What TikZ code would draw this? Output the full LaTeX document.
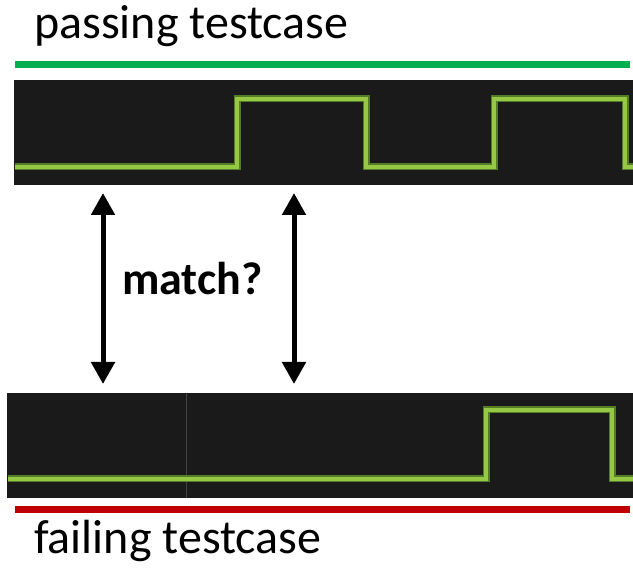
\documentclass[tikz,border=0pt]{standalone}
\usepackage{fontspec}
\setmainfont{Carlito}
\usetikzlibrary{arrows.meta}
\definecolor{okgreen}{RGB}{0,176,80}
\definecolor{okred}{RGB}{192,0,0}
\definecolor{scope}{RGB}{26,26,26}
\definecolor{trace}{RGB}{150,200,70}
\definecolor{glow}{RGB}{85,125,40}
\tikzset{
  x=1pt, y=-1pt,
  label/.style={font=\fontsize{48}{52}\selectfont, anchor=base west, inner sep=0pt},
  bar/.style={line width=7pt},
  screen/.style={fill=scope, draw=none},
  wave/.style={draw=trace, line width=4.5pt, line join=miter},
  waveglow/.style={draw=glow, line width=7pt, line join=miter},
  dblarrow/.style={line width=5pt, {Triangle[width=23pt,length=22pt]}-{Triangle[width=23pt,length=22pt]}},
}
\begin{document}
\begin{tikzpicture}
\useasboundingbox (0,0) rectangle (633,569);
% labels
\node[label] (pass) at (34,39) {passing testcase};
\node[label] (fail) at (34,554) {failing testcase};
% bars
\draw[bar, okgreen] (15,65) -- (630,65);
\draw[bar, okred] (15,510) -- (630,510);
% top scope
\fill[screen] (14,80) rectangle (633,185);
\draw[waveglow] (15,167) -- (237,167) -- (237,99) -- (366,99) -- (366,167) -- (494,167) -- (494,99) -- (625,99) -- (625,167) -- (633,167);
\draw[wave] (15,167) -- (237,167) -- (237,99) -- (366,99) -- (366,167) -- (494,167) -- (494,99) -- (625,99) -- (625,167) -- (633,167);
% bottom scope
\fill[screen] (7,393) rectangle (633,498);
\draw[draw=gray!40!scope, line width=0.8pt] (186,393) -- (186,498);
\draw[waveglow] (8,479) -- (486,479) -- (486,410) -- (612,410) -- (612,479) -- (633,479);
\draw[wave] (8,479) -- (486,479) -- (486,410) -- (612,410) -- (612,479) -- (633,479);
% arrows
\coordinate (a1t) at (103,193);
\coordinate (a1b) at (103,384);
\coordinate (a2t) at (294,193);
\coordinate (a2b) at (294,384);
\draw[dblarrow] (a1t) -- (a1b);
\draw[dblarrow] (a2t) -- (a2b);
\node[font=\bfseries\fontsize{46}{50}\selectfont, anchor=base west, inner sep=0pt] (match) at (122,295) {match?};
\end{tikzpicture}
\end{document}
